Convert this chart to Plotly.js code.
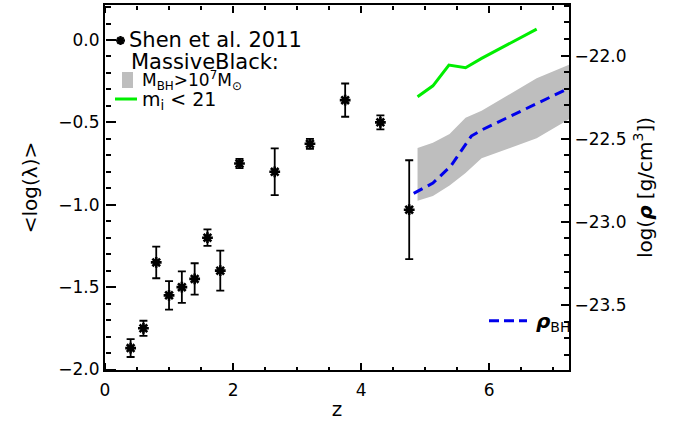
<!DOCTYPE html>
<html>
<head>
<meta charset="utf-8">
<script src="https://cdn.plot.ly/plotly-3.0.1.min.js"></script>
<style>
  html, body { margin: 0; padding: 0; background: #fff; }
  #chart { width: 673px; height: 434px; }
</style>
</head>
<body>
<div id="chart"></div>
<script>
// ---- Shen et al. 2011: <log(lambda)> vs z (left axis)
const shenZ   = [0.4, 0.6, 0.8, 1.0, 1.2, 1.4, 1.6, 1.8, 2.1, 2.65, 3.2, 3.75, 4.3, 4.75];
const shenLam = [-1.87, -1.75, -1.35, -1.55, -1.50, -1.45, -1.20, -1.40, -0.75, -0.80, -0.63, -0.365, -0.50, -1.03];
const shenErr = [0.054, 0.046, 0.096, 0.086, 0.096, 0.095, 0.05, 0.121, 0.028, 0.142, 0.03, 0.101, 0.043, 0.30];

// ---- MassiveBlack band M_BH > 1e7 Msun (right axis, log rho)
const bandZ     = [4.88, 5.12, 5.38, 5.63, 5.88, 6.74, 7.25];
const bandUpper = [-22.556, -22.524, -22.472, -22.374, -22.332, -22.137, -22.054];
const bandLower = [-22.873, -22.845, -22.782, -22.707, -22.618, -22.498, -22.382];

// ---- MassiveBlack m_i < 21 (right axis)
const greenZ   = [4.88, 5.12, 5.37, 5.63, 5.88, 6.74];
const greenRho = [-22.248, -22.182, -22.057, -22.073, -22.017, -21.841];

// ---- rho_BH (right axis, dashed)
const rhoZ  = [4.82, 5.12, 5.40, 5.72, 5.88, 6.74, 7.25];
const rhoBH = [-22.829, -22.767, -22.664, -22.484, -22.448, -22.287, -22.195];

// ---- axis ranges
const xRange  = [0, 7.245];
const yRange  = [-2.003, 0.2124];
const y2Range = [-23.891, -21.696];

const FONT = 'DejaVu Sans, Liberation Sans, sans-serif';
const BAND = 'rgb(190,190,190)';
const GREEN = 'rgb(0,238,0)';
const BLUE = 'rgb(0,0,235)';

const traces = [
  {
    x: bandZ.concat(bandZ.slice().reverse()),
    y: bandUpper.concat(bandLower.slice().reverse()),
    yaxis: 'y2', type: 'scatter', mode: 'lines',
    fill: 'toself', fillcolor: BAND,
    line: { width: 0, color: BAND },
    hoverinfo: 'skip', showlegend: false
  },
  {
    x: greenZ, y: greenRho, yaxis: 'y2', type: 'scatter', mode: 'lines',
    line: { color: GREEN, width: 3 }, showlegend: false
  },
  {
    x: rhoZ, y: rhoBH, yaxis: 'y2', type: 'scatter', mode: 'lines',
    line: { color: BLUE, width: 3, dash: '10px,6px' }, showlegend: false
  },
  {
    x: shenZ, y: shenLam, type: 'scatter', mode: 'markers',
    marker: { symbol: 'asterisk-open', size: 9, color: 'black', line: { color: 'black', width: 2.6 } },
    error_y: { type: 'data', array: shenErr, visible: true, color: 'black', thickness: 1.8, width: 4 },
    showlegend: false
  },
  // empty traces that only activate the tick-only helper axes
  { type: 'scatter', mode: 'markers', x: [], y: [], xaxis: 'x2', yaxis: 'y3', showlegend: false, hoverinfo: 'skip' },
  { type: 'scatter', mode: 'markers', x: [], y: [], xaxis: 'x3', yaxis: 'y4', showlegend: false, hoverinfo: 'skip' }
];

const px2x = p => (p - 105) / 464;
const py2y = p => (370 - p) / 365;

// tick-only helper axes (outside ticks pointing into the plot)
function tickAxis(extra) {
  return Object.assign({
    ticks: 'outside', tickwidth: 1.5, tickcolor: 'black',
    showticklabels: false, showline: false, showgrid: false, zeroline: false,
    anchor: 'free'
  }, extra);
}

const layout = {
  width: 673, height: 434,
  margin: { l: 105, r: 104, t: 5, b: 64 },
  paper_bgcolor: 'white', plot_bgcolor: 'white',
  showlegend: false,
  font: { family: FONT, size: 17, color: 'black' },
  xaxis: {
    range: xRange, dtick: 2, tick0: 0, ticks: '',
    showline: true, linewidth: 2, linecolor: 'black', mirror: true,
    showgrid: false, zeroline: false, ticklabelstandoff: 4,
    title: { text: 'z', font: { size: 20, family: FONT }, standoff: 3 }
  },
  yaxis: {
    range: yRange, dtick: 0.5, tick0: 0, tickformat: '.1f', ticks: '',
    showline: true, linewidth: 2, linecolor: 'black',
    showgrid: false, zeroline: false,
    title: { text: '&lt;log(λ)&gt;', font: { size: 20, family: FONT }, standoff: 15 }
  },
  yaxis2: {
    overlaying: 'y', side: 'right',
    range: y2Range, dtick: 0.5, tick0: -22, tickformat: '.1f', ticks: '',
    showline: true, linewidth: 2, linecolor: 'black',
    showgrid: false, zeroline: false,
    title: { text: 'log(<b><i>ρ</i></b> [g/cm<sup>3</sup>])', font: { size: 20, family: FONT }, standoff: 12 }
  },
  xaxis2: tickAxis({ overlaying: 'x', side: 'top', position: 0, range: xRange, dtick: 2, tick0: 0, ticklen: 7,
    minor: { ticks: 'outside', dtick: 0.5, ticklen: 3.5, tickwidth: 1.5, tickcolor: 'black' } }),
  xaxis3: tickAxis({ overlaying: 'x', side: 'bottom', position: 1, range: xRange, dtick: 2, tick0: 0, ticklen: 7,
    minor: { ticks: 'outside', dtick: 0.5, ticklen: 3.5, tickwidth: 1.5, tickcolor: 'black' } }),
  yaxis3: tickAxis({ overlaying: 'y', side: 'right', position: 0, range: yRange, dtick: 0.5, tick0: 0, ticklen: 10,
    minor: { ticks: 'outside', dtick: 0.1, ticklen: 5, tickwidth: 1.5, tickcolor: 'black' } }),
  yaxis4: tickAxis({ overlaying: 'y', side: 'left', position: 1, range: y2Range, dtick: 0.5, tick0: -22, ticklen: 8,
    minor: { ticks: 'outside', dtick: 0.1, ticklen: 5, tickwidth: 1.5, tickcolor: 'black' } }),
  shapes: [
    { type: 'path', xref: 'paper', yref: 'paper', xsizemode: 'pixel', ysizemode: 'pixel',
      xanchor: px2x(120.5), yanchor: py2y(40.5),
      path: 'M0,4.5V-4.5M4.5,0H-4.5M3.2,3.2L-3.2,-3.2M3.2,-3.2L-3.2,3.2',
      line: { color: 'black', width: 2.4 } },
    { type: 'rect', xref: 'paper', yref: 'paper',
      x0: px2x(122), x1: px2x(133), y0: py2y(88), y1: py2y(72),
      fillcolor: BAND, line: { width: 0 } },
    { type: 'line', xref: 'paper', yref: 'paper',
      x0: px2x(115), x1: px2x(137), y0: py2y(99), y1: py2y(99),
      line: { color: GREEN, width: 3 } },
    { type: 'line', xref: 'paper', yref: 'paper',
      x0: px2x(489), x1: px2x(527), y0: py2y(320.7), y1: py2y(320.7),
      line: { color: BLUE, width: 3, dash: '10px,5px' } }
  ],
  annotations: [
    { text: 'Shen et al. 2011', xref: 'paper', yref: 'paper', x: px2x(127), y: py2y(40.5),
      xanchor: 'left', yanchor: 'middle', showarrow: false, font: { size: 21 } },
    { text: 'MassiveBlack:', xref: 'paper', yref: 'paper', x: px2x(129), y: py2y(62),
      xanchor: 'left', yanchor: 'middle', showarrow: false, font: { size: 21 } },
    { text: 'M<sub>BH</sub>&gt;10<sup>7</sup>M<sub>⊙</sub>', xref: 'paper', yref: 'paper', x: px2x(140), y: py2y(80.5),
      xanchor: 'left', yanchor: 'middle', showarrow: false, font: { size: 17 } },
    { text: 'm<sub>i</sub> &lt; 21', xref: 'paper', yref: 'paper', x: px2x(140), y: py2y(100.5),
      xanchor: 'left', yanchor: 'middle', showarrow: false, font: { size: 19 } },
    { text: '<b><i>ρ</i></b><sub>BH</sub>', xref: 'paper', yref: 'paper', x: px2x(534), y: py2y(322),
      xanchor: 'left', yanchor: 'middle', showarrow: false, font: { size: 20 } }
  ]
};

Plotly.newPlot('chart', traces, layout, { displayModeBar: false });
</script>
</body>
</html>
